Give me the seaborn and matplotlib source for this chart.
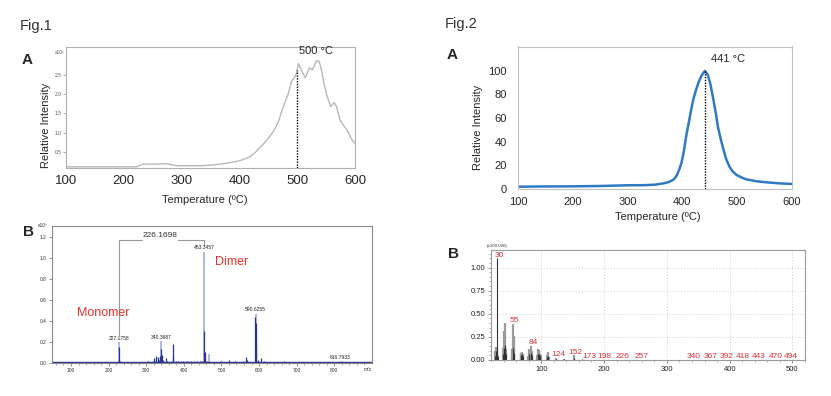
import numpy as np
import pandas as pd
import matplotlib
matplotlib.use("Agg")
import matplotlib.pyplot as plt
import seaborn as sns

# --- data ---
# Fig.1 A : thermogram (grey curve)
temp_1 = [100, 150, 200, 222, 233, 250, 274, 291, 315, 337, 355, 372, 388, 401, 410, 418, 428,
          436, 444, 450, 456, 462, 468, 473, 479, 485, 490, 495, 499, 502, 508, 514, 521, 526,
          530, 533, 538, 542, 546, 551, 558, 564, 568, 574, 580, 587, 593, 600]
inten_1 = [0.12, 0.12, 0.12, 0.12, 0.19, 0.19, 0.20, 0.15, 0.15, 0.15, 0.17, 0.20, 0.24, 0.28, 0.33,
           0.38, 0.50, 0.63, 0.75, 0.86, 0.98, 1.12, 1.30, 1.55, 1.80, 2.03, 2.33, 2.42, 2.55, 2.79,
           2.60, 2.42, 2.68, 2.63, 2.75, 2.86, 2.85, 2.63, 2.30, 1.98, 1.68, 1.78, 1.68, 1.33, 1.20,
           1.05, 0.86, 0.72]
peak_1 = 500

# Fig.2 A : thermogram (blue curve)
temp_2 = [100, 150, 200, 250, 300, 330, 350, 365, 375, 382, 386, 390, 394, 398, 402, 407, 412, 416,
          420, 425, 430, 435, 441, 446, 451, 456, 461, 465, 470, 475, 480, 486, 492, 499, 508, 517,
          535, 554, 575, 600]
inten_2 = [1.7, 1.9, 2.0, 2.3, 2.9, 3.0, 3.4, 4.5, 5.6, 7.2, 8.8, 11.5, 16, 21.4, 30, 45, 57, 67,
           76, 84, 91, 96, 100, 97, 89, 77, 64, 52, 42, 33, 25, 18.6, 14.5, 11.6, 9.5, 7.9, 6.3, 5.4,
           4.6, 4.0]
peak_2 = 441

# Fig.1 B : mass spectrum (x10^7)
mz_b1_light = [227.2, 340.4, 453.3, 468.0, 590.6]
int_b1_light = [0.20, 0.21, 1.06, 0.08, 0.47]
mz_b1_dark = [62, 110, 135, 158, 185, 227.2, 229, 290, 305, 318, 322, 325, 327, 330, 333, 336, 338,
              340.4, 342, 345, 352, 356, 365, 370, 372, 378, 385, 392, 398, 405, 412, 420, 428, 436,
              442, 448, 453.3, 455, 457, 462, 480, 500, 510, 520, 530, 537, 548, 556, 565, 567, 576,
              589, 590.6, 592, 596, 605, 612, 625, 640, 665, 690, 720, 760, 790, 816.8, 850]
int_b1_dark = [0.008, 0.01, 0.01, 0.008, 0.01, 0.15, 0.02, 0.01, 0.015, 0.02, 0.04, 0.06, 0.03, 0.05,
               0.03, 0.06, 0.04, 0.13, 0.07, 0.03, 0.04, 0.02, 0.02, 0.18, 0.06, 0.02, 0.015, 0.02,
               0.015, 0.015, 0.015, 0.015, 0.015, 0.015, 0.02, 0.02, 0.30, 0.10, 0.04, 0.02, 0.01,
               0.015, 0.01, 0.03, 0.01, 0.02, 0.01, 0.015, 0.05, 0.03, 0.01, 0.44, 0.38, 0.19, 0.03,
               0.04, 0.02, 0.01, 0.01, 0.015, 0.008, 0.008, 0.008, 0.008, 0.02, 0.008]
b1_labels = ["227.1758", "340.3687", "453.3457", "590.6255", "816.7933"]
b1_label_mz = [227.2, 340.4, 453.3, 590.6, 816.8]
b1_label_y = [0.233, 0.243, 1.10, 0.504, 0.048]

# Fig.2 B : mass spectrum (x100,000)
mz_b2_light = [15, 26, 28, 29, 39, 41, 42, 43, 44, 53, 54, 55, 56, 57, 67, 68, 69, 70, 71, 79, 81,
               82, 83, 84, 85, 93, 95, 96, 97, 98, 99, 109, 110, 111, 112, 124, 137, 152]
int_b2_light = [0.11, 0.10, 0.14, 0.12, 0.13, 0.31, 0.14, 0.40, 0.12, 0.06, 0.12, 0.39, 0.26, 0.12,
                0.08, 0.07, 0.09, 0.05, 0.07, 0.04, 0.12, 0.08, 0.09, 0.15, 0.10, 0.05, 0.12, 0.10,
                0.11, 0.07, 0.05, 0.05, 0.09, 0.04, 0.03, 0.025, 0.015, 0.05]
mz_b2_dark = [15, 27, 28, 29, 30, 31, 39, 41, 42, 43, 44, 55, 56, 57, 67, 69, 71, 81, 83, 84, 85, 95,
              96, 97, 98, 109, 110, 111, 124, 137, 152, 165]
int_b2_dark = [0.05, 0.04, 0.10, 0.08, 1.10, 0.04, 0.06, 0.13, 0.09, 0.16, 0.06, 0.13, 0.08, 0.05,
               0.05, 0.06, 0.04, 0.06, 0.05, 0.08, 0.05, 0.07, 0.05, 0.06, 0.04, 0.03, 0.04, 0.02,
               0.015, 0.01, 0.02, 0.01]
b2_label_mz = [30, 55, 84, 124, 152, 173, 198, 226, 257, 340, 367, 392, 418, 443, 470, 494]
b2_label_int = [1.10, 0.39, 0.15, 0.025, 0.05, 0.005, 0.005, 0.005, 0.005, 0.005, 0.005, 0.005,
                0.005, 0.005, 0.005, 0.005]

W, H = 831, 396


def fx(x):
    return x / W


def fy(y):
    return 1 - y / H


sns.set_style("white")
plt.rcParams["font.family"] = ["Liberation Sans", "DejaVu Sans"]

fig = plt.figure(figsize=(W / 100, H / 100), dpi=100)
red = "#e8322a"

# ---------- Fig.1 A ----------
ax1 = fig.add_axes([fx(66), fy(168), fx(289), 121 / H])
df1 = pd.DataFrame({"temp": temp_1, "inten": inten_1})
sns.lineplot(data=df1, x="temp", y="inten", ax=ax1, color="#b8b8b8", lw=1.0)
ax1.vlines(peak_1, 0.09, 2.62, colors="black", linestyles=(0, (1, 1)), lw=1.0)
ax1.text(peak_1 + 3, 2.98, "500 °C", fontsize=8, va="bottom", ha="left")
ax1.set_xlim(100, 600)
ax1.set_ylim(0.09, 3.22)
ax1.set_xticks([100, 200, 300, 400, 500, 600])
ax1.set_yticks([0.5, 1.0, 1.5, 2.0, 2.5])
ax1.set_yticklabels(["0.5", "1.0", "1.5", "2.0", "2.5"])
ax1.tick_params(axis="x", labelsize=9.5, length=0, pad=5)
ax1.tick_params(axis="y", labelsize=3.5, length=2, width=0.5, color="#888", pad=1,
                labelcolor="#555", left=True)
ax1.set_xlabel("")
ax1.set_ylabel("")
for s in ax1.spines.values():
    s.set_color("#b0b0b0")
    s.set_linewidth(0.8)
ax1.text(-0.005, 0.955, "x10⁶", transform=ax1.transAxes, fontsize=3.5, ha="right",
         va="center", color="#555")

# ---------- Fig.2 A ----------
ax2 = fig.add_axes([fx(518), fy(188.7), fx(274), 142.2 / H])
df2 = pd.DataFrame({"temp": temp_2, "inten": inten_2})
sns.lineplot(data=df2, x="temp", y="inten", ax=ax2, color="#2f7ac3", lw=1.8)
ax2.vlines(peak_2, 0, 100, colors="black", linestyles=(0, (1, 1)), lw=1.0)
ax2.text(peak_2 + 11, 106, "441 °C", fontsize=8, va="bottom", ha="left")
ax2.set_xlim(100, 600)
ax2.set_ylim(0, 120.7)
ax2.set_xticks([100, 200, 300, 400, 500, 600])
ax2.set_yticks([0, 20, 40, 60, 80, 100])
ax2.tick_params(axis="both", labelsize=8, length=0)
ax2.tick_params(axis="y", pad=8)
ax2.tick_params(axis="x", pad=6)
ax2.set_xlabel("")
ax2.set_ylabel("")
for s in ax2.spines.values():
    s.set_color("#c0c0c0")
    s.set_linewidth(0.8)

# ---------- Fig.1 B ----------
ax3 = fig.add_axes([fx(51.7), fy(363.3), fx(320), 137.6 / H])
ax3.vlines(mz_b1_light, 0, int_b1_light, colors="#aab2e2", lw=1.3)
ax3.vlines(mz_b1_dark, 0, int_b1_dark, colors="#2a3590", lw=0.9)
ax3.axhline(0.004, color="#2a3590", lw=1.0)
ax3.set_xlim(48.7, 899.5)
ax3.set_ylim(-0.006, 1.31)
ax3.set_xticks([100, 200, 300, 400, 500, 600, 700, 800])
ax3.set_yticks([0.0, 0.2, 0.4, 0.6, 0.8, 1.0, 1.2])
ax3.set_yticklabels(["0.0", "0.2", "0.4", "0.6", "0.8", "1.0", "1.2"])
ax3.xaxis.set_minor_locator(matplotlib.ticker.MultipleLocator(20))
ax3.tick_params(axis="both", labelsize=3.5, length=2, width=0.5, color="#666", pad=1.5,
                labelcolor="#333", bottom=True, left=True)
ax3.tick_params(axis="x", which="minor", length=1.2, width=0.4, color="#666", bottom=True)
for s in ax3.spines.values():
    s.set_color("#8a8a8a")
    s.set_linewidth(0.8)
for lab, m, yy in zip(b1_labels, b1_label_mz, b1_label_y):
    ax3.text(m, yy, lab, fontsize=3.6, ha="center", va="center", color="#222")
# bracket between monomer and dimer
ax3.plot([227.2, 227.2], [0.26, 1.174], color="#999", lw=0.8)
ax3.plot([453.3, 453.3], [1.128, 1.174], color="#999", lw=0.8)
ax3.plot([227.2, 290], [1.174, 1.174], color="#999", lw=0.8)
ax3.plot([385, 453.3], [1.174, 1.174], color="#999", lw=0.8)
ax3.text(338, 1.215, "226.1698", fontsize=6, ha="center", va="center", color="#333")
ax3.text(185, 0.476, "Monomer", fontsize=9, color=red, ha="center", va="center")
ax3.text(528, 0.966, "Dimer", fontsize=9, color=red, ha="center", va="center")
ax3.text(-0.012, 1.0, "x10⁷", transform=ax3.transAxes, fontsize=3.5, ha="right",
         va="center", color="#333")
ax3.text(1.0, -0.028, "m/z", transform=ax3.transAxes, fontsize=3.5, ha="right",
         va="top", color="#333")

# ---------- Fig.2 B ----------
ax4 = fig.add_axes([fx(491), fy(360), fx(314), 110 / H])
ax4.vlines(mz_b2_light, 0, int_b2_light, colors="#9a9a9a", lw=1.6)
ax4.vlines(mz_b2_dark, 0, int_b2_dark, colors="#333333", lw=0.8)
ax4.set_xlim(20, 520)
ax4.set_ylim(0, 1.19)
ax4.set_xticks([100, 200, 300, 400, 500])
ax4.set_yticks([0.0, 0.25, 0.5, 0.75, 1.0])
ax4.set_yticklabels(["0.00", "0.25", "0.50", "0.75", "1.00"])
ax4.xaxis.set_minor_locator(matplotlib.ticker.MultipleLocator(20))
ax4.yaxis.set_minor_locator(matplotlib.ticker.MultipleLocator(0.05))
ax4.grid(True, which="major", ls=(0, (1, 2)), color="#cfcfcf", lw=0.7)
ax4.set_axisbelow(True)
ax4.tick_params(axis="both", labelsize=5.5, length=2.5, width=0.5, color="#666", pad=1.5,
                labelcolor="#222", bottom=True, left=True)
ax4.tick_params(which="minor", length=1.3, width=0.4, color="#777", bottom=True, left=True)
for s in ax4.spines.values():
    s.set_color("#9a9a9a")
    s.set_linewidth(0.8)
for m, yy in zip(b2_label_mz, b2_label_int):
    ax4.text(m + 3, yy + 0.035, str(m), fontsize=6, ha="center", va="center", color="#e0303a")
ax4.text(-0.012, 1.02, "(x100,000)", transform=ax4.transAxes, fontsize=3.2, ha="left",
         va="bottom", color="#333")

# ---------- figure texts ----------
fig.text(fx(20), fy(26), "Fig.1", fontsize=10.5, color="#333", va="center", ha="left")
fig.text(fx(445), fy(24), "Fig.2", fontsize=10.5, color="#333", va="center", ha="left")
fig.text(fx(22), fy(60), "A", fontsize=11, fontweight="bold", va="center", ha="left")
fig.text(fx(447), fy(55), "A", fontsize=11, fontweight="bold", va="center", ha="left")
fig.text(fx(23), fy(232), "B", fontsize=11, fontweight="bold", va="center", ha="left")
fig.text(fx(448), fy(254), "B", fontsize=11, fontweight="bold", va="center", ha="left")
fig.text(fx(46), fy(125), "Relative Intensity", fontsize=8, rotation=90, va="center", ha="center")
fig.text(fx(478), fy(127), "Relative Intensity", fontsize=8, rotation=90, va="center", ha="center")
fig.text(fx(205), fy(200), "Temperature (ºC)", fontsize=8, va="center", ha="center")
fig.text(fx(658), fy(217), "Temperature (ºC)", fontsize=8, va="center", ha="center")

fig.savefig("out.png", dpi=100)
